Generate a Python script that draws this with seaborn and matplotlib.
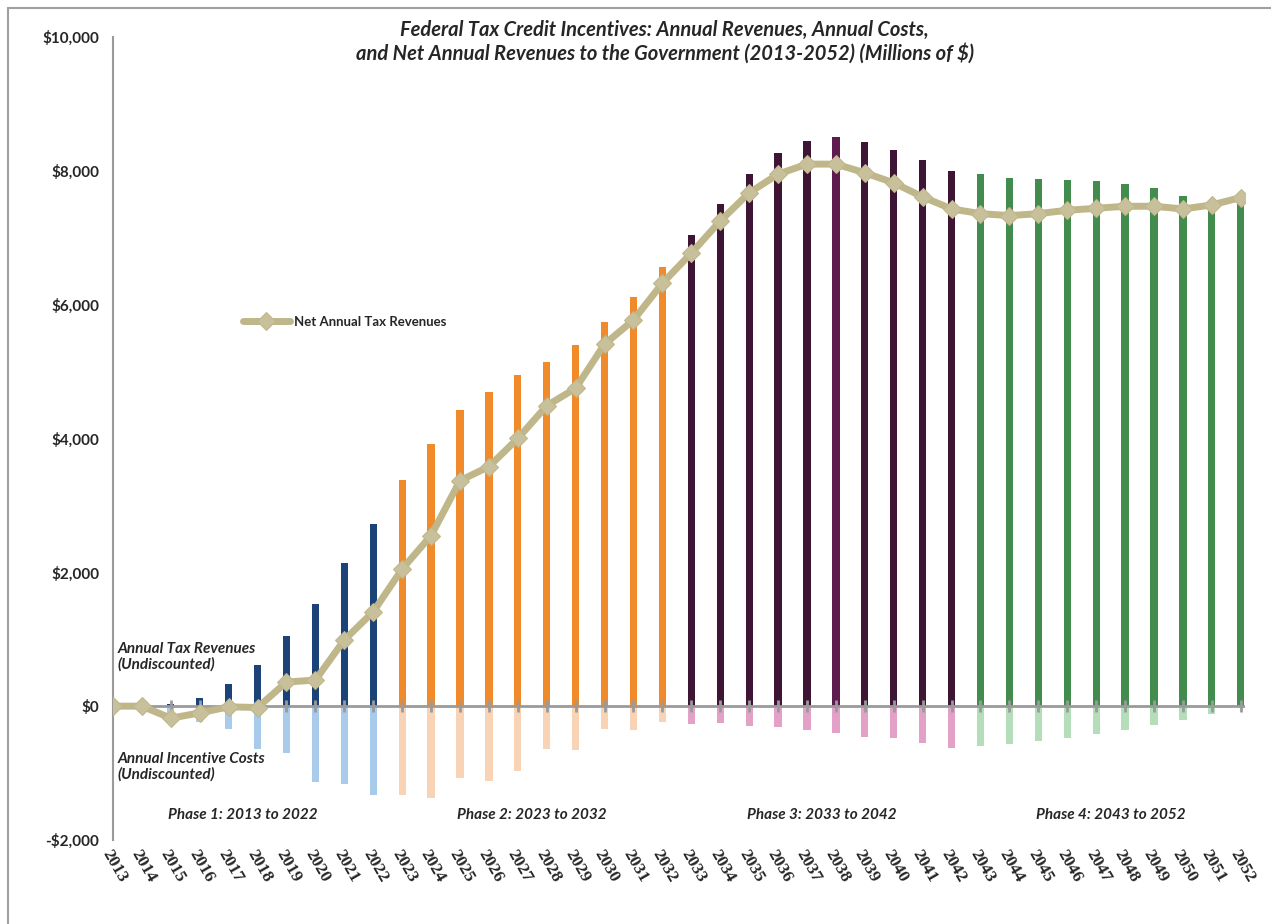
import pandas as pd
import matplotlib.pyplot as plt
import seaborn as sns
from matplotlib.lines import Line2D

# data (millions of $)
years = list(range(2013, 2053))
revenues = [0, 0, 30, 120, 330, 610, 1050, 1525, 2140, 2720,
            3380, 3920, 4425, 4695, 4950, 5140, 5400, 5740, 6110, 6560,
            7040, 7500, 7950, 8265, 8445, 8500, 8430, 8310, 8160, 8000,
            7950, 7890, 7880, 7860, 7850, 7800, 7740, 7620, 7520, 7600]
costs = [0, 0, -150, -240, -340, -640, -700, -1140, -1160, -1330,
         -1330, -1370, -1080, -1120, -970, -640, -660, -340, -360, -240,
         -270, -255, -300, -315, -355, -400, -460, -480, -555, -630,
         -600, -570, -520, -480, -420, -360, -285, -210, -120, -10]
net = [0, 0, -180, -100, -10, -20, 360, 390, 990, 1410,
       2050, 2550, 3370, 3580, 4000, 4490, 4750, 5410, 5770, 6320,
       6770, 7250, 7670, 7950, 8100, 8100, 7970, 7820, 7610, 7430,
       7360, 7330, 7360, 7410, 7440, 7470, 7470, 7430, 7490, 7600]
phase_labels = ["Phase 1: 2013 to 2022", "Phase 2: 2023 to 2032",
                "Phase 3: 2033 to 2042", "Phase 4: 2043 to 2052"]
yticks = [-2000, 0, 2000, 4000, 6000, 8000, 10000]
ytick_labels = ["-$2,000", "$0", "$2,000", "$4,000", "$6,000", "$8,000", "$10,000"]

dark = ["#1B4377", "#F08A2B", "#3E1535", "#428C4D"]
light = ["#A8CBEB", "#F9D3B6", "#E4A1C7", "#B4DDBA"]
rev_pal = {y: dark[(y - 2013) // 10] for y in years}
rev_pal[2038] = "#5E1B4D"
cost_pal = {y: light[(y - 2013) // 10] for y in years}

df = pd.DataFrame({"year": years, "revenue": revenues, "cost": costs, "net": net})

sns.set_style("white")
plt.rcParams["font.family"] = ["Lato", "DejaVu Sans"]

fig = plt.figure(figsize=(12.71, 9.24), dpi=100)
ax = fig.add_axes([0.0889, 0.0909, 0.8907, 0.8691])

sns.barplot(data=df, x="year", y="revenue", hue="year", palette=rev_pal, saturation=1,
            native_scale=True, width=0.25, linewidth=0, legend=False, ax=ax)
sns.barplot(data=df, x="year", y="cost", hue="year", palette=cost_pal, saturation=1,
            native_scale=True, width=0.25, linewidth=0, legend=False, ax=ax)

ax.axhline(0, color="#9A9A9A", lw=2, zorder=3)
ax.plot(df["year"], [0] * len(years), "|", color="#9A9A9A", ms=8, mew=2, zorder=3)

sns.lineplot(data=df, x="year", y="net", color="#BFB68A", lw=5, marker="D",
             ms=9, markerfacecolor="#C8C09B", markeredgecolor="#BFB68A",
             label="Net Annual Tax Revenues", ax=ax, zorder=5)

ax.set_xlim(2013, 2052.15)
ax.set_ylim(-2000, 10000)
ax.set_yticks(yticks)
ax.set_yticklabels(ytick_labels, fontweight="bold", fontsize=11)
ax.set_xticks(years)
ax.set_xticklabels([str(y) for y in years], rotation=-60, ha="left", va="top",
                   rotation_mode="anchor", fontsize=12.5, fontweight="bold",
                   family="Liberation Serif")
ax.tick_params(axis="x", length=0, pad=5)
ax.tick_params(axis="y", length=4, width=1.2, color="#9A9A9A", direction="out", pad=6)
ax.set_xlabel("")
ax.set_ylabel("")
for s in ["top", "right", "bottom"]:
    ax.spines[s].set_visible(False)
ax.spines["left"].set_color("#9A9A9A")
ax.spines["left"].set_linewidth(1.5)

leg = ax.legend(loc="center left", bbox_to_anchor=(0.104, 0.645), frameon=False,
                handlelength=3.6, handletextpad=0.3, prop={"weight": "bold", "size": 9.5})

ax.text(0.004, 0.228, "Annual Tax Revenues\n(Undiscounted)", transform=ax.transAxes,
        fontsize=11, fontweight="bold", fontstyle="italic", va="center", linespacing=1.1)
ax.text(0.004, 0.091, "Annual Incentive Costs\n(Undiscounted)", transform=ax.transAxes,
        fontsize=11, fontweight="bold", fontstyle="italic", va="center", linespacing=1.1)
for i, lab in enumerate(phase_labels):
    ax.text(2017.5 + 10 * i, -1630, lab, ha="center", va="center",
            fontsize=11, fontweight="bold", fontstyle="italic")

fig.text(0.523, 0.955, "Federal Tax Credit Incentives: Annual Revenues, Annual Costs,\n"
         "and Net Annual Revenues to the Government (2013-2052) (Millions of $)",
         ha="center", va="center", fontsize=14.5, fontweight="bold", fontstyle="italic",
         linespacing=1.2)

# outer frame of the chart area
fig.add_artist(Line2D([0.0063, 1], [0.9913, 0.9913], color="#A0A0A0", lw=1.5))
fig.add_artist(Line2D([0.0063, 0.0063], [0, 0.9913], color="#A0A0A0", lw=1.5))

fig.savefig("out.png", dpi=100)
